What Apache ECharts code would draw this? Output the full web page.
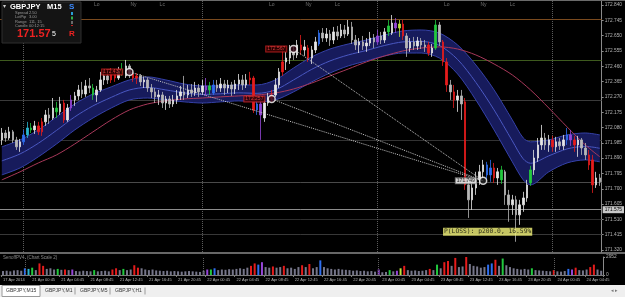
<!DOCTYPE html>
<html><head><meta charset="utf-8">
<script src="https://cdn.jsdelivr.net/npm/echarts@6/dist/echarts.min.js"></script>
<style>html,body{margin:0;padding:0;background:#000;overflow:hidden}#c{width:625px;height:297px}</style>
</head><body><div id="c"></div>
<script>
// ---- data (GBPJPY, 30-minute sampling of the M15 chart) ----
const timeLabels = [[0,'17 Apr 2014'],[8,'21 Apr 00:45'],[16,'21 Apr 04:45'],[24,'21 Apr 08:45'],[32,'21 Apr 12:45'],[40,'21 Apr 16:45'],[48,'21 Apr 20:45'],[56,'22 Apr 00:45'],[64,'22 Apr 04:45'],[72,'22 Apr 08:45'],[80,'22 Apr 12:45'],[88,'22 Apr 16:45'],[96,'22 Apr 20:45'],[104,'23 Apr 00:45'],[112,'23 Apr 04:45'],[120,'23 Apr 08:45'],[128,'23 Apr 12:45'],[136,'23 Apr 16:45'],[144,'23 Apr 20:45'],[152,'24 Apr 00:45'],[160,'24 Apr 04:45']];
const priceTicks = [172.840,172.745,172.650,172.555,172.460,172.365,172.270,172.175,172.080,171.985,171.890,171.795,171.700,171.605,171.510,171.415,171.320];
const volTicks = [0,2952];
// [open, close, low, high]
const candles = [
[172.003,172.046,171.972,172.077],[172.046,172.015,171.991,172.065],[172.015,172.053,172.003,172.084],[172.053,172.003,171.984,172.065],[172.003,171.960,171.941,172.022],
[171.960,171.991,171.929,172.009],[171.991,172.034,171.972,172.065],[172.034,172.077,172.015,172.115],[172.077,172.065,172.046,172.108],[172.065,172.090,172.040,172.121],
[172.090,172.053,172.034,172.115],[172.053,172.115,172.028,172.139],[172.115,172.158,172.090,172.189],[172.158,172.139,172.102,172.201],[172.139,172.201,172.127,172.263],
[172.201,172.177,172.139,172.239],[172.177,172.226,172.158,172.270],[172.232,172.127,172.108,172.251],[172.127,172.201,172.115,172.226],[172.201,172.251,172.183,172.282],
[172.251,172.276,172.214,172.301],[172.276,172.313,172.251,172.344],[172.313,172.288,172.263,172.363],[172.288,172.338,172.270,172.375],[172.338,172.325,172.294,172.387],
[172.325,172.282,172.251,172.350],[172.282,172.313,172.239,172.338],[172.313,172.375,172.301,172.425],[172.375,172.400,172.344,172.437],[172.400,172.375,172.350,172.431],
[172.375,172.412,172.356,172.449],[172.412,172.387,172.363,172.437],[172.387,172.418,172.375,172.456],[172.418,172.437,172.400,172.480],[172.400,172.462,172.387,172.499],
[172.462,172.412,172.387,172.474],[172.412,172.387,172.363,172.425],[172.387,172.400,172.350,172.418],[172.400,172.363,172.338,172.412],[172.363,172.375,172.325,172.394],
[172.375,172.325,172.301,172.387],[172.325,172.301,172.263,172.350],[172.301,172.270,172.232,172.325],[172.270,172.282,172.220,172.313],[172.282,172.232,172.201,172.301],
[172.232,172.257,172.189,172.276],[172.257,172.226,172.201,172.276],[172.226,172.251,172.208,172.282],[172.251,172.276,172.226,172.313],[172.276,172.301,172.251,172.338],
[172.301,172.282,172.251,172.400],[172.282,172.313,172.263,172.344],[172.313,172.294,172.270,172.350],[172.294,172.325,172.276,172.363],[172.325,172.301,172.270,172.350],
[172.301,172.338,172.282,172.375],[172.338,172.313,172.276,172.387],[172.313,172.338,172.282,172.363],[172.294,172.344,172.282,172.375],[172.344,172.325,172.301,172.375],
[172.325,172.350,172.301,172.387],[172.350,172.325,172.282,172.375],[172.325,172.344,172.294,172.375],[172.344,172.319,172.276,172.363],[172.319,172.350,172.288,172.375],
[172.350,172.375,172.313,172.412],[172.375,172.344,172.313,172.406],[172.344,172.375,172.325,172.412],[172.375,172.387,172.344,172.425],[172.387,172.189,172.170,172.400],
[172.189,172.226,172.158,172.251],[172.226,172.158,172.003,172.251],[172.139,172.232,172.115,172.251],[172.232,172.263,172.214,172.294],[172.263,172.282,172.239,172.313],
[172.282,172.344,172.270,172.387],[172.344,172.425,172.325,172.449],[172.425,172.487,172.400,172.580],[172.487,172.511,172.437,172.549],[172.511,172.549,172.474,172.592],
[172.549,172.530,172.499,172.586],[172.530,172.592,172.511,172.623],[172.592,172.561,172.530,172.654],[172.561,172.580,172.524,172.623],[172.573,172.511,172.487,172.592],
[172.511,172.561,172.474,172.586],[172.561,172.611,172.542,172.642],[172.598,172.666,172.586,172.685],[172.666,172.635,172.611,172.697],[172.635,172.660,172.611,172.697],
[172.660,172.623,172.586,172.685],[172.623,172.673,172.598,172.704],[172.673,172.648,172.623,172.710],[172.648,172.685,172.635,172.722],[172.685,172.660,172.635,172.716],
[172.660,172.704,172.648,172.747],[172.704,172.623,172.598,172.735],[172.623,172.592,172.561,172.654],[172.592,172.611,172.542,172.635],[172.611,172.586,172.561,172.648],
[172.586,172.604,172.549,172.635],[172.604,172.635,172.586,172.673],[172.635,172.611,172.573,172.660],[172.611,172.648,172.592,172.685],[172.648,172.623,172.598,172.673],
[172.623,172.673,172.604,172.697],[172.673,172.710,172.648,172.747],[172.666,172.728,172.654,172.778],[172.728,172.697,172.666,172.759],[172.697,172.722,172.642,172.747],
[172.722,172.648,172.623,172.747],[172.648,172.573,172.518,172.666],[172.573,172.611,172.549,172.635],[172.611,172.586,172.561,172.642],[172.586,172.617,172.561,172.642],
[172.617,172.592,172.567,172.635],[172.592,172.580,172.549,172.623],[172.592,172.542,172.524,172.611],[172.542,172.573,172.518,172.598],[172.573,172.716,172.561,172.747],
[172.716,172.611,172.586,172.735],[172.611,172.487,172.462,172.623],[172.487,172.344,172.301,172.511],[172.344,172.301,172.251,172.375],[172.301,172.251,172.201,172.344],
[172.251,172.276,172.177,172.313],[172.276,172.226,172.127,172.313],[172.239,171.724,171.693,172.263],[171.724,171.631,171.519,171.767],[171.631,171.705,171.569,171.743],
[171.705,171.755,171.662,171.805],[171.755,171.805,171.724,171.848],[171.805,171.848,171.767,171.879],[171.848,171.786,171.755,171.867],[171.786,171.829,171.743,171.879],
[171.829,171.767,171.736,171.860],[171.767,171.805,171.724,171.829],[171.755,171.817,171.730,171.842],[171.805,171.662,171.600,171.817],[171.662,171.600,171.495,171.693],
[171.600,171.631,171.538,171.662],[171.631,171.538,171.371,171.656],[171.538,171.600,171.476,171.631],[171.600,171.643,171.557,171.681],[171.643,171.724,171.619,171.755],
[171.736,171.817,171.718,171.842],[171.817,171.891,171.786,171.941],[171.891,171.972,171.867,172.015],[171.972,172.015,171.941,172.096],[172.015,171.972,171.941,172.046],
[171.972,172.003,171.929,172.034],[172.003,171.960,171.929,172.028],[171.960,171.991,171.929,172.022],[171.991,171.966,171.941,172.015],[171.966,172.003,171.941,172.034],
[172.003,172.034,171.972,172.077],[172.034,172.003,171.966,172.065],[172.003,171.972,171.929,172.028],[171.972,172.003,171.898,172.028],[172.003,171.953,171.910,172.015],
[171.953,171.910,171.879,171.984],[171.910,171.848,171.817,171.941],[171.879,171.724,171.674,171.910],[171.724,171.767,171.705,171.805],[171.767,171.743,171.718,171.792]
];
const volumes = [650,700,600,750,800,700,1100,1000,1200,800,1900,1500,1000,1100,900,1000,850,900,800,900,
650,600,700,650,600,800,600,650,700,600,900,1100,800,1000,800,900,1600,1200,1100,900,
800,900,750,700,650,700,600,650,600,550,600,650,600,550,500,700,900,900,1100,800,
900,850,950,900,1000,1100,1000,1200,1500,1900,1700,2100,1300,1200,1400,1200,1300,1500,1100,1200,
1000,1300,1600,1300,1800,1100,1300,2400,1300,1100,1000,900,1000,900,850,800,700,750,650,700,
600,650,550,900,450,500,800,600,700,1100,1500,800,700,750,650,700,800,1000,800,1700,
1100,2100,2300,1500,2800,1300,1400,2952,1800,1500,1400,1200,1300,1700,1900,2500,1500,2700,1600,1300,
1100,1000,900,1000,900,1100,800,750,700,650,600,800,600,550,650,1000,900,1200,800,750,
900,1300,1700,900,700];
// PV4 colour code per bar (r red, b blue, g green, p purple, c cyan, y yellow-green)
const colorMarks = [[6,'b'],[7,'c'],[8,'g'],[10,'r'],[11,'r'],[15,'g'],[17,'r'],[19,'p'],[25,'g'],[30,'r'],[31,'r'],[33,'g'],[36,'r'],[37,'r'],[56,'p'],[57,'g'],[58,'b'],[68,'r'],[69,'r'],[70,'b'],[71,'p'],[74,'r'],[77,'r'],[82,'r'],[84,'r'],[87,'b'],[103,'p'],[106,'g'],[108,'p'],[109,'y'],[110,'r'],[117,'r'],[119,'g'],[121,'r'],[122,'r'],[124,'r'],[127,'r'],[133,'b'],[134,'b'],[135,'r'],[137,'g'],[145,'g'],[151,'r'],[155,'b'],[156,'p'],[157,'r'],[161,'r'],[162,'r']];
// envelope band
const bandIdx = [0,5,10,15,20,25,30,35,40,45,50,55,60,65,70,75,80,85,90,95,100,105,110,115,120,125,130,135,140,143,145,150,155,160,164];
const bandTop = [171.960,172.003,172.065,172.146,172.226,172.288,172.332,172.375,172.394,172.375,172.350,172.338,172.338,172.344,172.344,172.375,172.449,172.518,172.567,172.598,172.623,172.654,172.679,172.685,172.666,172.592,172.468,172.313,172.127,172.015,171.991,172.003,172.034,172.046,172.034];
const bandMid = [171.873,171.916,171.982,172.062,172.146,172.214,172.267,172.313,172.329,172.313,172.295,172.285,172.289,172.295,172.292,172.313,172.375,172.441,172.493,172.530,172.558,172.589,172.611,172.614,172.589,172.502,172.360,172.189,171.997,171.885,171.858,171.904,171.947,171.963,171.951];
const bandBot = [171.786,171.829,171.898,171.978,172.065,172.139,172.201,172.251,172.263,172.251,172.239,172.232,172.239,172.245,172.239,172.251,172.301,172.363,172.418,172.462,172.493,172.524,172.542,172.542,172.511,172.412,172.251,172.065,171.867,171.755,171.724,171.805,171.860,171.879,171.867];
// slow moving average
const maIdx = [0,5,10,15,20,25,30,35,40,45,50,55,60,65,70,75,80,85,90,95,100,105,110,115,120,125,130,135,140,145,150,155,160,164];
const maVal = [171.755,171.805,171.860,171.910,171.978,172.053,172.127,172.189,172.226,172.245,172.257,172.263,172.270,172.276,172.282,172.294,172.319,172.356,172.400,172.443,172.487,172.524,172.555,172.573,172.580,172.567,172.530,172.474,172.406,172.313,172.201,172.084,171.972,171.898];
// horizontal objects [price, colour]
const hLines = [[172.753,'#7a4a1e'],[172.505,'#3e5a1e'],[172.251,'#3a3a3a'],[171.997,'#333333'],[171.743,'#4a4a4a'],[171.507,'#2e2e2e'],[171.420,'#383838']];
const bidPrice = 171.575;
const dayLines = [6,55,103,151];
const sessions = [[25,'Lo'],[35,'Ny'],[43,'Lc'],[73,'Lo'],[83,'Ny'],[91,'Lc'],[121,'Lo'],[131,'Ny'],[139,'Lc']];
// marked points [index, price, label]
const pointsRed = [[35,172.425,'172.437'],[74,172.257,'172.257'],[80,172.567,'172.567']];
const pointTarget = [132,171.749,'171.749'];
const lossLabel = [121,171.433,'P(LOSS): p200.0, 16.59%'];

// ---- chart ----
const colorMap = {r:'#e51c1c',b:'#2f6ff0',g:'#22c93e',p:'#9646d8',c:'#2ab6cf',y:'#bde23c'};
const markMap = new Map(colorMarks);
const labelMap = new Map(timeLabels);
const cats = candles.map((_, i) => String(i));
const candleData = candles.map((c, i) => {
  const k = markMap.get(i);
  if (!k) return c;
  const cc = colorMap[k];
  return {value: c, itemStyle: {color: cc, color0: cc, borderColor: cc, borderColor0: cc}};
});
const volData = volumes.map((v, i) => {
  const k = markMap.get(i);
  return {value: v, itemStyle: {color: k ? colorMap[k] : '#76768a'}};
});
const FONT = 'Liberation Sans';
const axisLbl = {color: '#b4b4b4', fontSize: 4.8, fontFamily: FONT};

const markLineData = hLines.map(h => ({yAxis: h[0], lineStyle: {color: h[1], width: 1, type: 'solid'}, label: {show: false}}))
  .concat(dayLines.map(d => ({xAxis: d, lineStyle: {color: '#5c5c5c', width: 1, type: 'dotted'}, label: {show: false}})))
  .concat([{yAxis: bidPrice, lineStyle: {color: '#8c8c8c', width: 1, type: 'solid'},
    label: {show: true, position: 'end', distance: 1, formatter: bidPrice.toFixed(3), backgroundColor: '#c8c8c8', color: '#000', fontSize: 4.8, fontFamily: FONT, padding: [1, 2]}}]);

const series = [
  {type: 'line', xAxisIndex: 0, yAxisIndex: 0, stack: 'band', smooth: 0.3, symbol: 'none', z: 1,
   data: bandIdx.map((x, k) => [x, bandBot[k]]), lineStyle: {color: '#3541a8', width: 1}},
  {type: 'line', xAxisIndex: 0, yAxisIndex: 0, stack: 'band', smooth: 0.3, symbol: 'none', z: 1,
   data: bandIdx.map((x, k) => [x, bandMid[k] - bandBot[k]]), lineStyle: {color: '#4b59c6', width: 1},
   areaStyle: {color: '#171b5c', opacity: 1}},
  {type: 'line', xAxisIndex: 0, yAxisIndex: 0, stack: 'band', smooth: 0.3, symbol: 'none', z: 1,
   data: bandIdx.map((x, k) => [x, bandTop[k] - bandMid[k]]), lineStyle: {color: '#3541a8', width: 1},
   areaStyle: {color: '#171b5c', opacity: 1}},
  {type: 'line', xAxisIndex: 0, yAxisIndex: 0, smooth: 0.3, symbol: 'none', z: 2,
   data: maIdx.map((x, k) => [x, maVal[k]]), lineStyle: {color: '#a8385a', width: 1}},
  {type: 'candlestick', xAxisIndex: 0, yAxisIndex: 0, z: 3, barWidth: 2,
   data: candleData,
   itemStyle: {color: '#e6e6e6', color0: '#b8b8b8', borderColor: '#e6e6e6', borderColor0: '#b8b8b8', borderWidth: 0.8},
   markLine: {silent: true, symbol: ['none', 'none'], animation: false, z: 1, data: markLineData}},
  ...pointsRed.map(p => ({type: 'line', xAxisIndex: 0, yAxisIndex: 0, symbol: 'none', z: 4,
    data: [[p[0], p[1]], [pointTarget[0], pointTarget[1]]], lineStyle: {color: '#c4c4c4', width: 1, type: 'dotted'}})),
  {type: 'scatter', xAxisIndex: 0, yAxisIndex: 0, z: 6, symbol: 'circle', symbolSize: 7,
   itemStyle: {color: '#3a0c1c', borderColor: '#ffffff', borderWidth: 1.5},
   data: pointsRed.map(p => ({value: [p[0], p[1]], name: p[2]})),
   label: {show: true, position: 'left', distance: 3, formatter: '{b}', color: '#ff4a4a', backgroundColor: '#2a0000', borderColor: '#cc2020', borderWidth: 1, padding: [0, 1], fontSize: 5, fontFamily: FONT}},
  {type: 'scatter', xAxisIndex: 0, yAxisIndex: 0, z: 6, symbol: 'circle', symbolSize: 7,
   itemStyle: {color: '#222', borderColor: '#ffffff', borderWidth: 1.5},
   data: [{value: [pointTarget[0], pointTarget[1]], name: pointTarget[2]}],
   label: {show: true, position: 'left', distance: 3, formatter: '{b}', color: '#000', backgroundColor: '#f4f4f4', borderColor: '#888', borderWidth: 1, padding: [0, 1], fontSize: 5, fontFamily: FONT}},
  {type: 'scatter', xAxisIndex: 0, yAxisIndex: 0, z: 6, symbolSize: 0,
   data: [{value: [lossLabel[0], lossLabel[1]], name: lossLabel[2]}],
   label: {show: true, position: 'right', distance: 0, formatter: '{b}', color: '#000', backgroundColor: '#f6f67a', padding: [1, 1], fontSize: 6.3, fontFamily: 'DejaVu Sans Mono'}},
  {type: 'scatter', xAxisIndex: 0, yAxisIndex: 0, z: 6, symbolSize: 0,
   data: sessions.map(s => ({value: [s[0], 172.842], name: s[1]})),
   label: {show: true, position: 'right', distance: 1, formatter: '{b}', color: '#8c8c8c', fontSize: 5, fontFamily: FONT}},
  {type: 'bar', xAxisIndex: 1, yAxisIndex: 1, barWidth: 2, data: volData,
   markLine: {silent: true, symbol: ['none', 'none'], animation: false,
     data: dayLines.map(d => ({xAxis: d})), lineStyle: {color: '#5c5c5c', width: 1, type: 'dotted'}, label: {show: false}}}
];

const g = [];
// frame lines
g.push({type: 'line', shape: {x1: 0, y1: 0.5, x2: 625, y2: 0.5}, style: {stroke: '#6a6a6a', lineWidth: 1}, z: 10});
g.push({type: 'line', shape: {x1: 0, y1: 253, x2: 625, y2: 253}, style: {stroke: '#8a8a8a', lineWidth: 1.5}, z: 10});
// info panel
g.push({type: 'rect', shape: {x: 2, y: 2, width: 79, height: 41}, style: {fill: '#141414', stroke: '#2e2e2e', lineWidth: 1}, z: 20});
g.push({type: 'text', x: 3, y: 3, style: {text: '▾', fill: '#cfcfcf', font: '6px ' + FONT}, z: 21});
g.push({type: 'text', x: 10, y: 3, style: {text: 'GBPJPY', fill: '#ffffff', font: 'bold 7.5px ' + FONT}, z: 21});
g.push({type: 'text', x: 47, y: 3, style: {text: 'M15', fill: '#ffffff', font: 'bold 7.5px ' + FONT}, z: 21});
g.push({type: 'text', x: 69, y: 3, style: {text: 'S', fill: '#3d8bff', font: 'bold 8px ' + FONT}, z: 21});
const infoRows = [['Spread', '2.50'], ['LotPip', '3.00'], ['Range', '111, 15'], ['Candle', '00:12:15']];
infoRows.forEach((r, k) => {
  g.push({type: 'text', x: 15, y: 11 + k * 4.3, style: {text: r[0], fill: '#9a9a9a', font: '4px ' + FONT}, z: 21});
  g.push({type: 'text', x: 29, y: 11 + k * 4.3, style: {text: r[1], fill: '#9a9a9a', font: '4px ' + FONT}, z: 21});
});
[['#2a9fd6', 12], ['#32b04a', 16.5], ['#6a6a6a', 21]].forEach(s => {
  g.push({type: 'rect', shape: {x: 71, y: s[1], width: 2, height: 3}, style: {fill: s[0]}, z: 21});
});
g.push({type: 'rect', shape: {x: 71, y: 25, width: 2, height: 1}, style: {fill: '#c02020'}, z: 21});
g.push({type: 'text', x: 17, y: 28, style: {text: '171.57', fill: '#ee2222', font: 'bold 11px ' + FONT}, z: 21});
g.push({type: 'text', x: 52, y: 31, style: {text: '5', fill: '#ffffff', font: '7px ' + FONT}, z: 21});
g.push({type: 'text', x: 69, y: 30, style: {text: 'R', fill: '#ee2222', font: 'bold 8px ' + FONT}, z: 21});
// indicator caption
g.push({type: 'text', x: 3, y: 255, style: {text: 'SenoffPV4. (Chart Scale 2)', fill: '#8a8a8a', font: '4.5px ' + FONT}, z: 21});
// tab bar
g.push({type: 'rect', shape: {x: 0, y: 285, width: 625, height: 12}, style: {fill: '#efefef'}, z: 20});
g.push({type: 'rect', shape: {x: 2, y: 285.5, width: 38, height: 11}, style: {fill: '#ffffff', stroke: '#9a9a9a', lineWidth: 1}, z: 21});
const tabs = [['GBPJPY,M15', 6], ['GBPJPY,M1', 45], ['GBPJPY,M5', 80], ['GBPJPY,H1', 115]];
tabs.forEach(t => g.push({type: 'text', x: t[1], y: 288.5, style: {text: t[0], fill: '#333', font: '5px ' + FONT}, z: 22}));
[75, 110, 145].forEach(x => g.push({type: 'line', shape: {x1: x, y1: 287.5, x2: x, y2: 294.5}, style: {stroke: '#9a9a9a', lineWidth: 1}, z: 22}));
g.push({type: 'text', x: 611, y: 288, style: {text: '◂ ▸', fill: '#777', font: '5px ' + FONT}, z: 22});

const option = {
  backgroundColor: '#000',
  animation: false,
  textStyle: {fontFamily: FONT},
  grid: [{left: 0, top: 0, width: 603, height: 252}, {left: 0, top: 257, width: 603, height: 18}],
  xAxis: [
    {type: 'category', gridIndex: 0, data: cats, boundaryGap: true, axisLine: {show: false}, axisTick: {show: false}, axisLabel: {show: false}, splitLine: {show: false}},
    {type: 'category', gridIndex: 1, data: cats, boundaryGap: true,
     axisLine: {show: true, lineStyle: {color: '#7a7a7a'}},
     axisTick: {show: true, length: 2, interval: (i) => labelMap.has(i), lineStyle: {color: '#7a7a7a'}},
     axisLabel: {interval: (i) => labelMap.has(i), formatter: (v, i) => labelMap.get(i) || '', align: 'left', margin: 3, color: '#b4b4b4', fontSize: 4, fontFamily: FONT}}
  ],
  yAxis: [
    {type: 'value', gridIndex: 0, position: 'right', min: 171.3076, max: 172.871, scale: true,
     splitLine: {show: false}, axisLine: {show: true, lineStyle: {color: '#8a8a8a'}},
     axisTick: {show: true, length: 2, customValues: priceTicks, lineStyle: {color: '#8a8a8a'}},
     axisLabel: Object.assign({customValues: priceTicks, formatter: v => v.toFixed(3), margin: 3}, axisLbl)},
    {type: 'value', gridIndex: 1, position: 'right', min: 0, max: 2952,
     splitLine: {show: false}, axisLine: {show: true, lineStyle: {color: '#8a8a8a'}},
     axisTick: {show: true, length: 2, customValues: volTicks, lineStyle: {color: '#8a8a8a'}},
     axisLabel: Object.assign({customValues: volTicks, formatter: v => String(v), margin: 3}, axisLbl)}
  ],
  series: series,
  graphic: g
};
const chart = echarts.init(document.getElementById('c'), null, {renderer: 'canvas'});
chart.setOption(option);
</script>
</body></html>
